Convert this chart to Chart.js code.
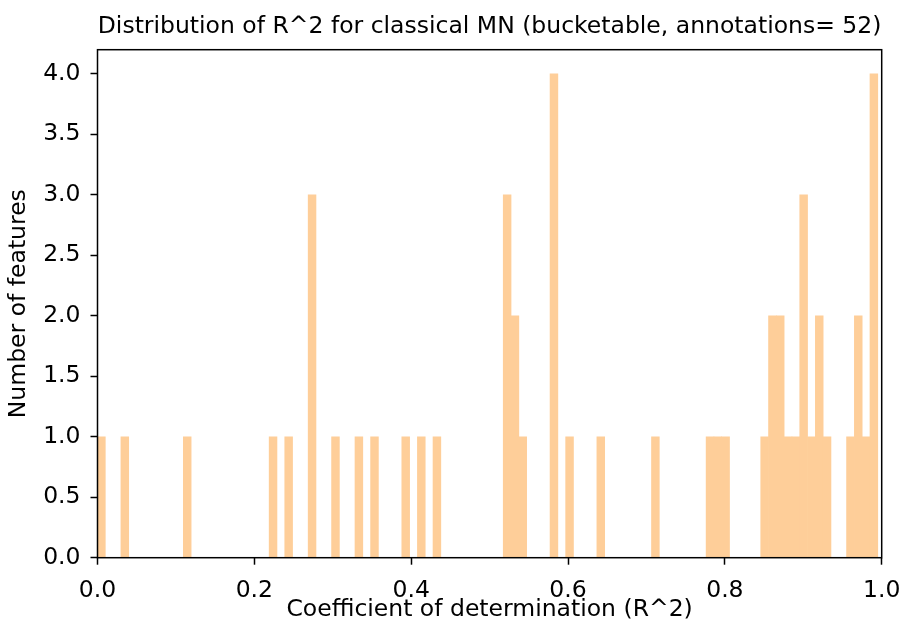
<!DOCTYPE html>
<html>
<head>
<meta charset="utf-8">
<script src="https://cdn.jsdelivr.net/npm/chart.js@4"></script>
<style>
  html, body { margin: 0; padding: 0; background: #fff; }
  #wrap { width: 902px; height: 628px; }
</style>
</head>
<body>
<div id="wrap"><canvas id="c" width="902" height="628"></canvas></div>
<script>
// Histogram of R^2 values: 100 equal bins between binStart and binEnd
const binStart = 0.0;
const binEnd = 0.995;
const counts = [
  1,0,0,1,0,0,0,0,0,0,
  0,1,0,0,0,0,0,0,0,0,
  0,0,1,0,1,0,0,3,0,0,
  1,0,0,1,0,1,0,0,0,1,
  0,1,0,1,0,0,0,0,0,0,
  0,0,3,2,1,0,0,0,4,0,
  1,0,0,0,1,0,0,0,0,0,
  0,1,0,0,0,0,0,0,1,1,
  1,0,0,0,0,1,2,2,1,1,
  3,1,2,1,0,0,1,2,1,4
];
const xTicks = [0.0, 0.2, 0.4, 0.6, 0.8, 1.0];
const yTicks = [0.0, 0.5, 1.0, 1.5, 2.0, 2.5, 3.0, 3.5, 4.0];
const titleText = 'Distribution of R^2 for classical MN (bucketable, annotations= 52)';
const xLabel = 'Coefficient of determination (R^2)';
const yLabel = 'Number of features';

const nBins = counts.length;
const binWidth = (binEnd - binStart) / nBins;
const points = counts.map((c, i) => ({ x: binStart + (i + 0.5) * binWidth, y: c }));

const FONT = 'DejaVu Sans';
const FS = 23.5;

const frame = {
  id: 'frame',
  afterDatasetsDraw(chart) {
    const { ctx, chartArea: a } = chart;
    ctx.save();
    ctx.strokeStyle = '#000';
    ctx.lineWidth = 1.5;
    ctx.strokeRect(a.left, a.top, a.right - a.left, a.bottom - a.top);
    ctx.restore();
  }
};

new Chart(document.getElementById('c'), {
  type: 'bar',
  data: {
    datasets: [{
      data: points,
      backgroundColor: 'rgb(254,206,153)',
      borderWidth: 0,
      barPercentage: 1.0,
      categoryPercentage: 1.0
    }]
  },
  options: {
    responsive: false,
    animation: false,
    devicePixelRatio: 1,
    layout: { padding: { left: 0, right: 20.3, top: 0, bottom: 0 } },
    plugins: {
      legend: { display: false },
      tooltip: { enabled: false },
      title: {
        display: true,
        text: titleText,
        fullSize: false,
        color: '#000',
        font: { family: FONT, size: FS, weight: 'normal' },
        padding: { top: 13, bottom: 8.5 }
      }
    },
    scales: {
      x: {
        type: 'linear',
        offset: false,
        min: 0,
        max: 1,
        afterFit(s) { s.height = 70.3; s.paddingLeft = 0; s.paddingRight = 0; },
        afterBuildTicks(s) { s.ticks = xTicks.map(v => ({ value: v })); },
        grid: { display: true, drawOnChartArea: false, drawTicks: true, tickLength: 7, tickWidth: 1.5, tickColor: '#000', offset: false },
        border: { display: false },
        ticks: {
          color: '#000',
          padding: 12,
          maxRotation: 0,
          font: { family: FONT, size: FS },
          callback: v => Number(v).toFixed(1)
        },
        title: {
          display: true,
          text: xLabel,
          color: '#000',
          font: { family: FONT, size: FS },
          padding: { top: 0, bottom: 4 }
        }
      },
      y: {
        type: 'linear',
        min: 0,
        max: 4.2,
        afterFit(s) { s.width = 97.5; s.paddingTop = 0; s.paddingBottom = 0; },
        afterBuildTicks(s) { s.ticks = yTicks.map(v => ({ value: v })); },
        grid: { display: true, drawOnChartArea: false, drawTicks: true, tickLength: 7, tickWidth: 1.5, tickColor: '#000' },
        border: { display: false },
        ticks: {
          color: '#000',
          padding: 10,
          font: { family: FONT, size: FS },
          callback: v => Number(v).toFixed(1)
        },
        title: {
          display: true,
          text: yLabel,
          color: '#000',
          font: { family: FONT, size: FS },
          padding: { top: 5, bottom: 0 }
        }
      }
    }
  },
  plugins: [frame]
});
</script>
</body>
</html>
